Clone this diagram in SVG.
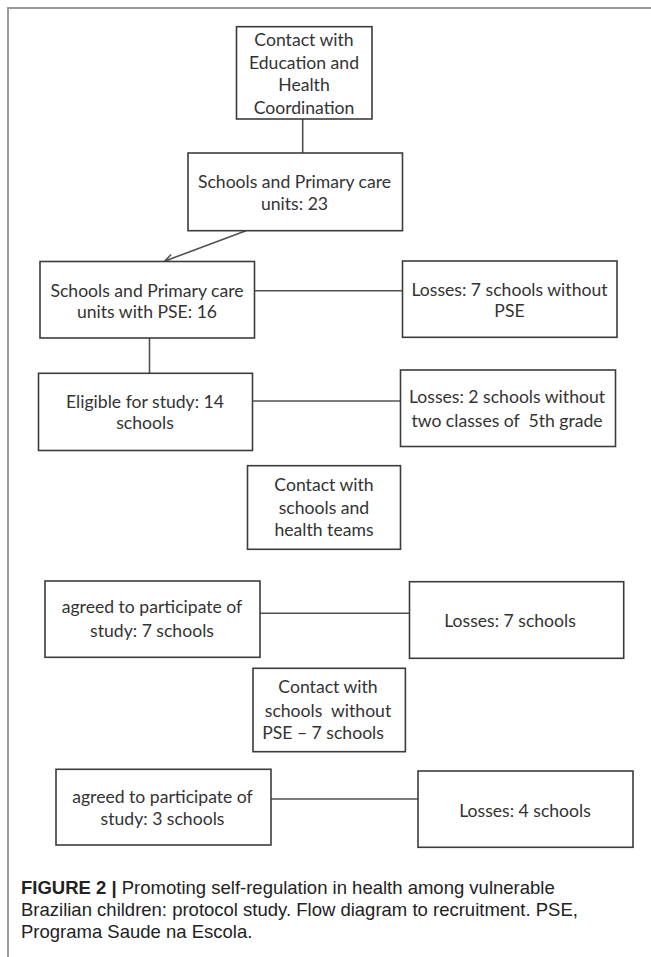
<svg xmlns="http://www.w3.org/2000/svg" width="651" height="957" viewBox="0 0 651 957">
<style>
.box{fill:#fff;stroke:#3c3c3c;stroke-width:1.6}
.ln{stroke:#505050;stroke-width:1.6;fill:none}
.frame{stroke:#9a9a9a;stroke-width:2;fill:none}
.t{font-family:Lato,"Open Sans",sans-serif;font-size:17.6px;fill:#333;text-anchor:middle}
.cap{font-family:"Liberation Sans",Arial,sans-serif;font-size:18.5px;fill:#222}
</style>
<defs>
<marker id="arr" markerWidth="10" markerHeight="10" refX="9" refY="5" orient="auto" markerUnits="userSpaceOnUse">
<path d="M1,1 L9,5 L1,9" fill="none" stroke="#505050" stroke-width="1.5"/>
</marker>
</defs>
<rect width="651" height="957" fill="#fff"/>
<path class="frame" d="M651,8 H8 V957"/>
<g id="connectors">
<line class="ln" x1="302.7" y1="119" x2="302.7" y2="153"/>
<line class="ln" x1="246" y1="230.7" x2="165" y2="261" marker-end="url(#arr)"/>
<line class="ln" x1="254.5" y1="290.7" x2="402.5" y2="290.7"/>
<line class="ln" x1="149.5" y1="338" x2="149.5" y2="373.3"/>
<line class="ln" x1="252.5" y1="401" x2="400.5" y2="401"/>
<line class="ln" x1="260" y1="613.3" x2="409.5" y2="613.3"/>
<line class="ln" x1="271" y1="799" x2="418" y2="799"/>
</g>
<g id="n1"><rect class="box" x="236.5" y="26.7" width="135.5" height="92.3"/>
<text class="t" x="304" y="46">Contact with</text><text class="t" x="304" y="68.7">Education and</text><text class="t" x="304" y="91.3">Health</text><text class="t" x="304" y="114">Coordination</text></g>
<g id="n2"><rect class="box" x="188" y="153" width="214.5" height="77.7"/>
<text class="t" x="294.5" y="188.3">Schools and Primary care</text><text class="t" x="294.5" y="210">units: 23</text></g>
<g id="n3"><rect class="box" x="40" y="261.5" width="214.5" height="76.5"/>
<text class="t" x="147" y="296.7">Schools and Primary care</text><text class="t" x="147" y="318">units with PSE: 16</text></g>
<g id="n4"><rect class="box" x="402.5" y="261" width="214.5" height="76.3"/>
<text class="t" x="509.5" y="296">Losses: 7 schools without</text><text class="t" x="509.5" y="317.3">PSE</text></g>
<g id="n5"><rect class="box" x="38.5" y="373.3" width="214" height="77.2"/>
<text class="t" x="145" y="408.3">Eligible for study: 14</text><text class="t" x="145" y="429.3">schools</text></g>
<g id="n6"><rect class="box" x="400.5" y="370" width="215" height="76.5"/>
<text class="t" x="507" y="403.3">Losses: 2 schools without</text><text class="t" x="507" y="426.7" xml:space="preserve">two classes of  5th grade</text></g>
<g id="n7"><rect class="box" x="247.5" y="465.7" width="153" height="83.6"/>
<text class="t" x="324" y="491">Contact with</text><text class="t" x="324" y="514.3">schools and</text><text class="t" x="324" y="536">health teams</text></g>
<g id="n8"><rect class="box" x="45" y="581" width="215" height="76.3"/>
<text class="t" x="152" y="613.3">agreed to participate of</text><text class="t" x="152" y="636.7">study: 7 schools</text></g>
<g id="n9"><rect class="box" x="409.5" y="581.7" width="214.2" height="76.6"/>
<text class="t" x="510" y="626.7">Losses: 7 schools</text></g>
<g id="n10"><rect class="box" x="253" y="668.3" width="152.4" height="83.4"/>
<text class="t" x="328" y="693.3">Contact with</text><text class="t" x="328" y="716.7" xml:space="preserve">schools  without</text><text class="t" x="323" y="739">PSE – 7 schools</text></g>
<g id="n11"><rect class="box" x="56" y="769.3" width="215" height="75.7"/>
<text class="t" x="162.5" y="803.3">agreed to participate of</text><text class="t" x="162.5" y="825">study: 3 schools</text></g>
<g id="n12"><rect class="box" x="418" y="771" width="215" height="76.3"/>
<text class="t" x="525" y="816.7">Losses: 4 schools</text></g>
<g id="caption">
<text class="cap" x="21" y="894"><tspan font-weight="bold">FIGURE 2 |</tspan> Promoting self-regulation in health among vulnerable</text>
<text class="cap" x="21" y="916">Brazilian children: protocol study. Flow diagram to recruitment. PSE,</text>
<text class="cap" x="21" y="938">Programa Saude na Escola.</text>
</g>
</svg>
